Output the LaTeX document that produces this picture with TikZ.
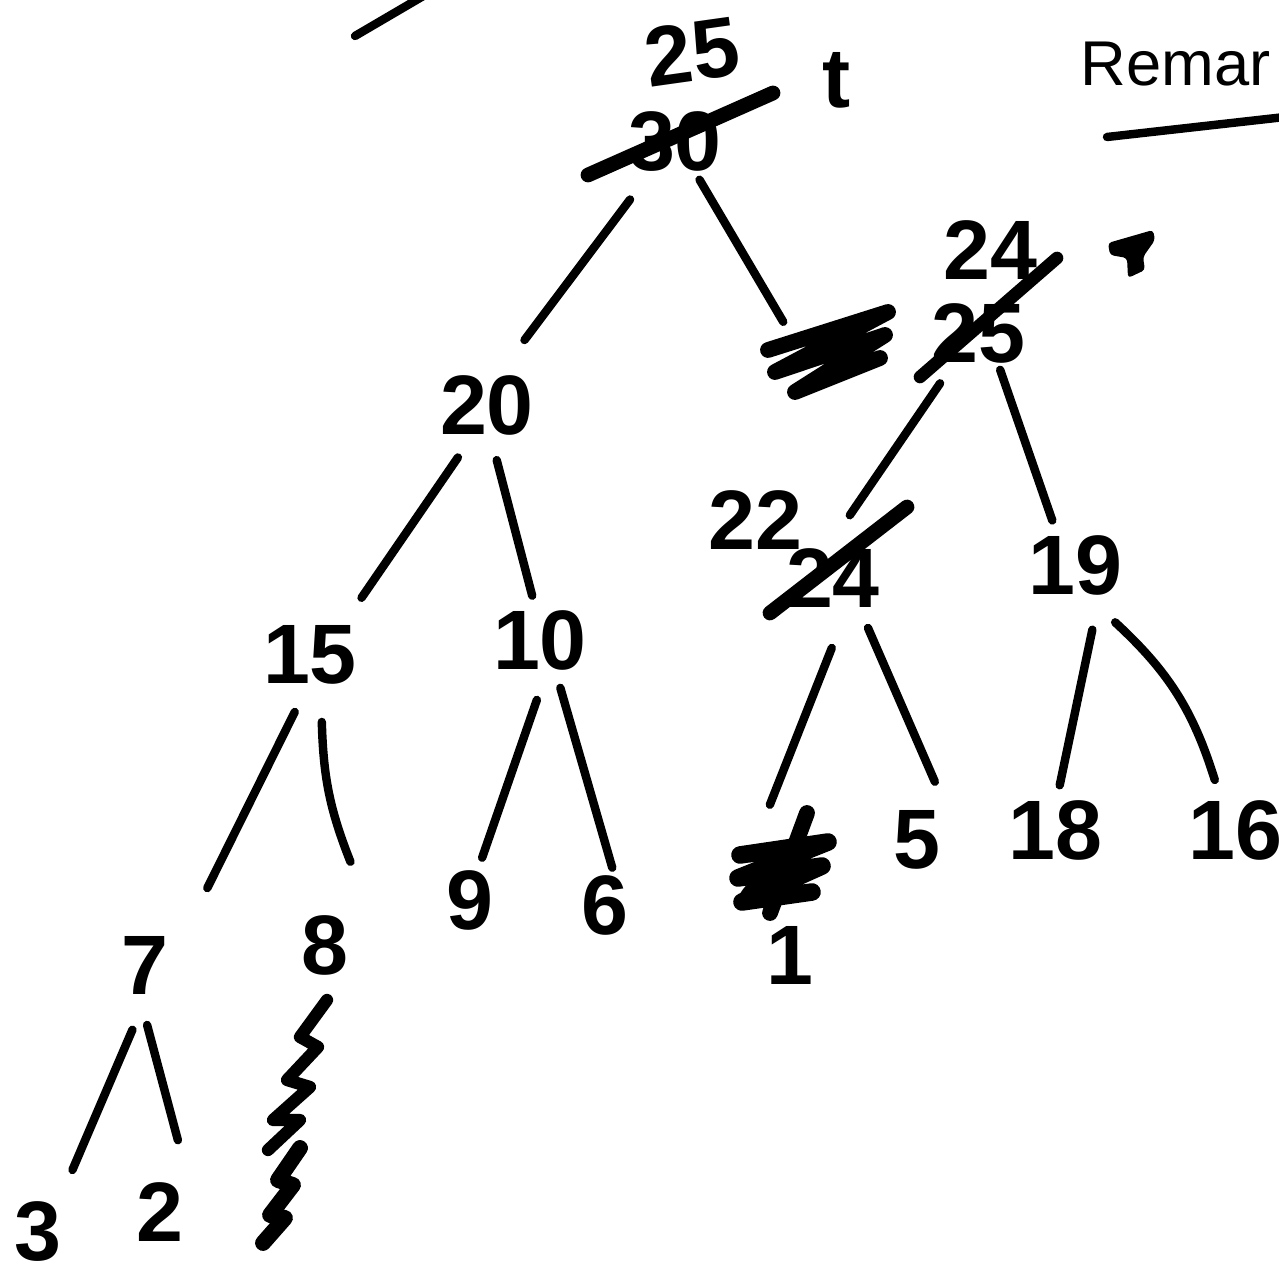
\documentclass[tikz,border=0pt]{standalone}
\usepackage{fontspec}
\setmainfont{Liberation Sans}
\usetikzlibrary{positioning, calc}

\begin{document}
\begin{tikzpicture}[
        num/.style={inner sep=0pt, font=\fontsize{24}{26}\selectfont\bfseries},
        hand/.style={inner sep=0pt, font=\fontsize{18}{20}\selectfont},
        twig/.style={line width=2.4pt, line cap=round},
        strike/.style={line width=3.6pt, line cap=round},
        scrawl/.style={line width=4.5pt, line cap=round, line join=round}
      ]
        \useasboundingbox (0,0) rectangle (12.79,-12.74);

        % root, rewritten
        \node[num] (root) at (6.75,-1.42) {30};
        \node[num, rotate=8] (rootnew) at (6.92,-0.52) {25};
        \node[num] (tmark) at (8.37,-0.80) {t};
        \draw[strike, line width=4.2pt] (5.88,-1.75) -- (7.73,-0.93);

        % right child, rewritten twice
        \node[num] (gone) at (8.28,-3.52) {};
        \node[num] (rhs) at (9.78,-3.33) {25};
        \node[num] (rhsnew) at (9.90,-2.50) {24};
        \draw[strike] (9.20,-3.77) -- (10.57,-2.58);
        \draw[scrawl] (7.68,-3.50) -- (8.88,-3.12) -- (7.75,-3.72) -- (8.85,-3.35) -- (7.95,-3.92) -- (8.80,-3.58);
        \fill[rounded corners=1pt] (11.08,-2.43) -- (11.53,-2.30) -- (11.55,-2.40) -- (11.43,-2.57)
          -- (11.45,-2.70) -- (11.28,-2.78) -- (11.27,-2.58) -- (11.10,-2.55) -- cycle;

        \node[num] (twenty) at (4.87,-4.05) {20};
        \node[num] (t24) at (8.33,-5.78) {24};
        \node[num] (t24new) at (7.55,-5.20) {22};
        \draw[strike, line width=4.2pt] (7.70,-6.13) -- (9.07,-5.07);
        \node[num] (nineteen) at (10.75,-5.65) {19};

        \node[num] (fifteen) at (3.10,-6.55) {15};
        \node[num] (ten) at (5.40,-6.40) {10};
        \node[num] (scr2) at (7.60,-8.75) {2};
        \draw[scrawl] (8.07,-8.13) -- (7.70,-9.13);
        \draw[scrawl, line width=5pt] (7.40,-8.55) -- (8.28,-8.42) -- (7.38,-8.78) -- (8.22,-8.66)
          -- (7.42,-9.02) -- (8.12,-8.92);
        \node[num] (five) at (9.17,-8.40) {5};
        \node[num] (eighteen) at (10.55,-8.30) {18};
        \node[num] (sixteen) at (12.35,-8.30) {16};

        \node[num] (seven) at (1.45,-9.65) {7};
        \node[num] (eight) at (3.25,-9.45) {8};
        \node[num] (nine) at (4.70,-9.00) {9};
        \node[num] (six) at (6.05,-9.05) {6};
        \node[num] (one) at (7.90,-9.55) {1};

        \node[num] (three) at (0.38,-12.32) {3};
        \node[num] (two) at (1.60,-12.12) {2};

        % scratched out below 8
        \draw[scrawl, line width=3.5pt] (3.27,-10.00) -- (3.00,-10.37) -- (3.18,-10.47) -- (2.87,-10.80)
          -- (3.10,-10.87) -- (2.73,-11.20) -- (3.00,-11.20) -- (2.68,-11.50);
        \draw[scrawl] (3.00,-11.48) -- (2.78,-11.80) -- (2.93,-11.85) -- (2.70,-12.15) -- (2.85,-12.18) -- (2.63,-12.43);

        % edges
        \draw[twig] ([shift={(-128:.73)}]root.center) -- ([shift={(60:.75)}]twenty.center);
        \draw[twig] ([shift={(-57:.45)}]root.center) -- ([shift={(146:.54)}]gone.center);
        \draw[twig] ([shift={(-127:.63)}]rhs.center) -- ([shift={(75:.65)}]t24.center);
        \draw[twig] ([shift={(-59:.43)}]rhs.center) -- ([shift={(117:.50)}]nineteen.center);
        \draw[twig] ([shift={(-119:.60)}]twenty.center) -- ([shift={(48:.77)}]fifteen.center);
        \draw[twig] ([shift={(-80:.56)}]twenty.center) -- ([shift={(100:.45)}]ten.center);
        \draw[twig] ([shift={(-105:.59)}]fifteen.center) -- ([shift={(51:.99)}]seven.center);
        \draw[twig] ([shift={(-80:.68)}]fifteen.center) to[bend right=10] ([shift={(73:.87)}]eight.center);
        \draw[twig] ([shift={(-93:.60)}]ten.center) -- ([shift={(74:.44)}]nine.center);
        \draw[twig] ([shift={(-67:.52)}]ten.center) -- ([shift={(79:.38)}]six.center);
        \draw[twig] ([shift={(-91:.70)}]t24.center) -- ([shift={(82:.71)}]scr2.center);
        \draw[twig] ([shift={(-55:.61)}]t24.center) -- ([shift={(73:.61)}]five.center);
        \draw[twig] ([shift={(-75:.67)}]nineteen.center) -- ([shift={(84:.45)}]eighteen.center);
        \draw[twig] ([shift={(-55:.70)}]nineteen.center) to[bend left=15] ([shift={(112:.54)}]sixteen.center);
        \draw[twig] ([shift={(-101:.66)}]seven.center) -- ([shift={(61:.71)}]three.center);
        \draw[twig] ([shift={(-88:.60)}]seven.center) -- ([shift={(76:.74)}]two.center);

        % margin notes
        \node[hand, anchor=base west] (remark) at (10.80,-0.86) {Remar};
        \draw[twig] (11.07,-1.37) -- (12.85,-1.17);
        \draw[twig] (3.55,-0.36) -- (4.25,0.05);
      \end{tikzpicture}
\end{document}
